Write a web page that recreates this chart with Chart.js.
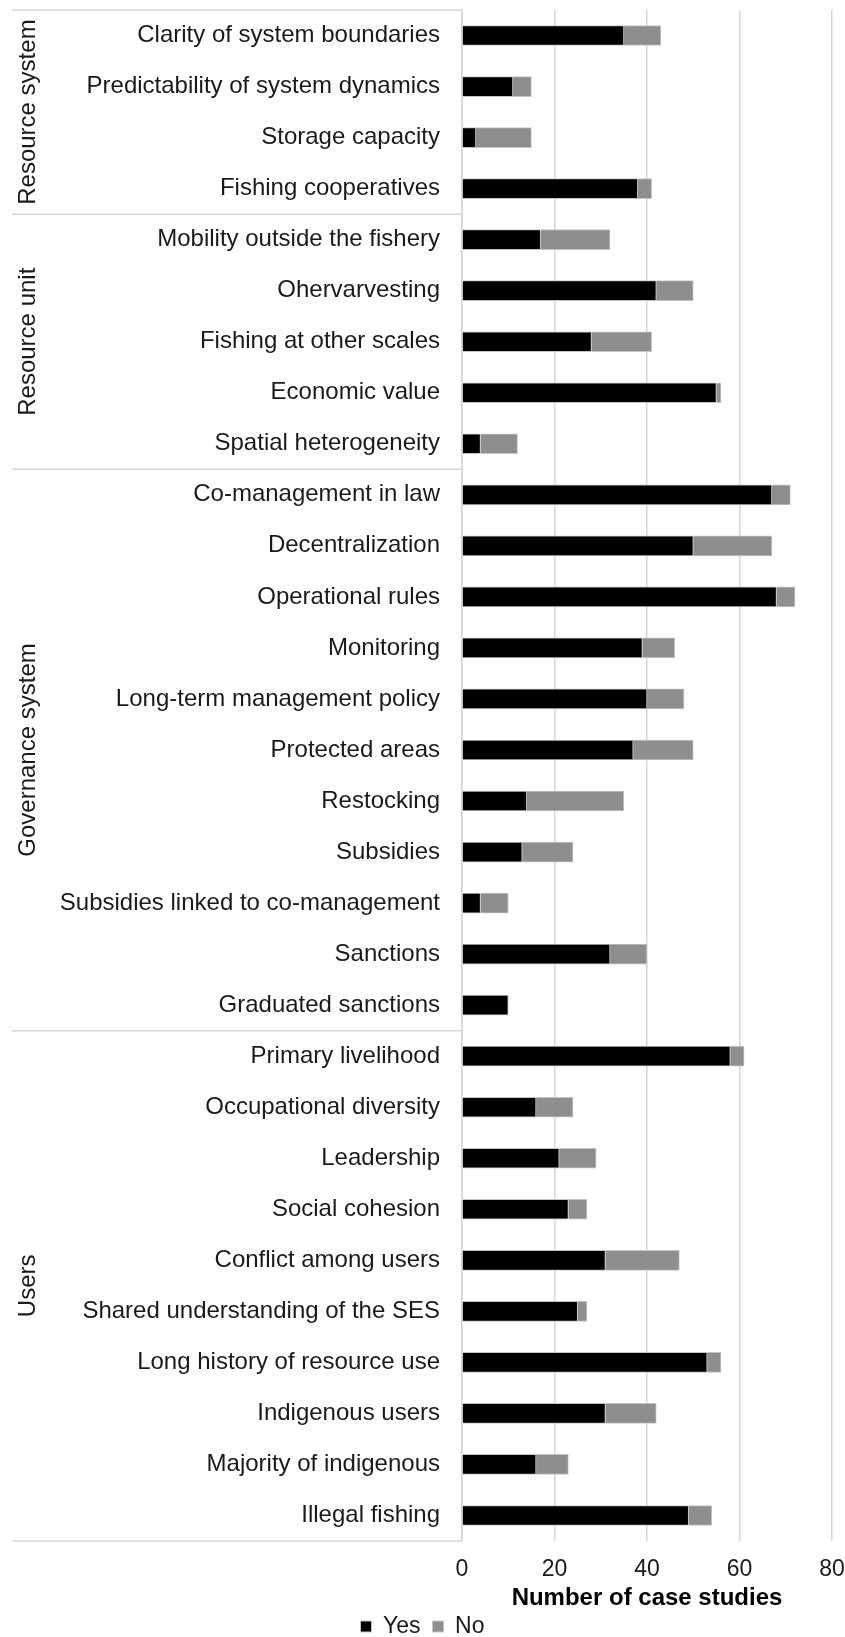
<!DOCTYPE html>
<html>
<head>
<meta charset="utf-8">
<script src="https://cdn.jsdelivr.net/npm/chart.js@4.4.1/dist/chart.umd.min.js"></script>
<style>
  html, body { margin: 0; padding: 0; background: #fff; overflow: hidden; }
  #wrap { width: 845px; height: 1637px; position: relative; }
</style>
</head>
<body>
<div id="wrap"><canvas id="chart"></canvas></div>
<script>
const categories = [
  "Clarity of system boundaries",
  "Predictability of system dynamics",
  "Storage capacity",
  "Fishing cooperatives",
  "Mobility outside the fishery",
  "Ohervarvesting",
  "Fishing at other scales",
  "Economic value",
  "Spatial heterogeneity",
  "Co-management in law",
  "Decentralization",
  "Operational rules",
  "Monitoring",
  "Long-term management policy",
  "Protected areas",
  "Restocking",
  "Subsidies",
  "Subsidies linked to co-management",
  "Sanctions",
  "Graduated sanctions",
  "Primary livelihood",
  "Occupational diversity",
  "Leadership",
  "Social cohesion",
  "Conflict among users",
  "Shared understanding of the SES",
  "Long history of resource use",
  "Indigenous users",
  "Majority of indigenous",
  "Illegal fishing",
];

const yesValues = [35, 11, 3, 38, 17, 42, 28, 55, 4, 67, 50, 68, 39, 40, 37, 14, 13, 4, 32, 10, 58, 16, 21, 23, 31, 25, 53, 31, 16, 49];
const noValues = [8, 4, 12, 3, 15, 8, 13, 1, 8, 4, 17, 4, 7, 8, 13, 21, 11, 6, 8, 0, 3, 8, 8, 4, 16, 2, 3, 11, 7, 5];

const groupNames = ["Resource system", "Resource unit", "Governance system", "Users"];
const groupSizes = [4, 5, 11, 10];

const xTicks = [0, 20, 40, 60, 80];

const FONT = "'Liberation Sans', Arial, Helvetica, sans-serif";
const LINE = "#d6d6d6";

// rotated group labels + the light frame on the left
const groupLabels = {
  id: "groupLabels",
  afterDraw(chart) {
    const { ctx, chartArea, scales } = chart;
    const y = scales.y;
    const half = (y.getPixelForValue(1) - y.getPixelForValue(0)) / 2;
    ctx.save();
    ctx.strokeStyle = LINE;
    ctx.lineWidth = 1.5;
    ctx.fillStyle = "#1a1a1a";
    ctx.font = "24px " + FONT;
    ctx.textAlign = "center";
    ctx.textBaseline = "alphabetic";

    let start = 0;
    const edge = (i) => y.getPixelForValue(i) - half;
    ctx.beginPath();
    ctx.moveTo(12, edge(0));
    ctx.lineTo(chartArea.left, edge(0));
    ctx.stroke();
    groupSizes.forEach((n, g) => {
      const top = edge(start);
      const bottom = edge(start + n);
      ctx.beginPath();
      ctx.moveTo(12, bottom);
      ctx.lineTo(chartArea.left, bottom);
      ctx.stroke();

      ctx.save();
      ctx.translate(35, (top + bottom) / 2);
      ctx.rotate(-Math.PI / 2);
      ctx.fillText(groupNames[g], 0, 0);
      ctx.restore();
      start += n;
    });
    ctx.restore();
  },
};

new Chart(document.getElementById("chart"), {
  type: "bar",
  data: {
    labels: categories,
    datasets: [
      {
        label: "Yes",
        data: yesValues,
        backgroundColor: "#000000",
        borderColor: "#c4c4c4",
        borderWidth: 1,
        barThickness: 20,
      },
      {
        label: "No",
        data: noValues,
        backgroundColor: "#8e8e8e",
        borderColor: "#c4c4c4",
        borderWidth: 1,
        barThickness: 20,
      },
    ],
  },
  options: {
    indexAxis: "y",
    responsive: true,
    maintainAspectRatio: false,
    animation: false,
    devicePixelRatio: 1,
    layout: { padding: { top: 10, right: 0, left: 0, bottom: 0 } },
    scales: {
      x: {
        stacked: true,
        min: 0,
        max: 80,
        afterBuildTicks: (scale) => {
          scale.ticks = xTicks.map((v) => ({ value: v }));
        },
        afterFit: (scale) => {
          scale.height = 62;
          scale.paddingLeft = 0;
          scale.paddingRight = 13;
        },
        grid: { color: LINE, lineWidth: 1.5, drawTicks: false },
        border: { display: false },
        ticks: {
          color: "#1a1a1a",
          padding: 15,
          font: { family: FONT, size: 23 },
        },
        title: {
          display: true,
          text: "Number of case studies",
          color: "#000",
          padding: { top: 0, bottom: -10 },
          font: { family: FONT, size: 24, weight: "bold" },
        },
      },
      y: {
        stacked: true,
        afterFit: (scale) => {
          scale.width = 462;
          scale.paddingTop = 0;
          scale.paddingBottom = 0;
        },
        grid: { display: false, drawTicks: false },
        border: { display: true, color: LINE, width: 1.5 },
        ticks: {
          autoSkip: false,
          color: "#1a1a1a",
          padding: 22,
          font: { family: FONT, size: 24 },
        },
      },
    },
    plugins: {
      legend: {
        position: "bottom",
        maxHeight: 34,
        labels: {
          boxWidth: 11,
          boxHeight: 11,
          padding: 12,
          color: "#1a1a1a",
          font: { family: FONT, size: 23 },
        },
      },
      tooltip: { enabled: false },
    },
  },
  plugins: [groupLabels],
});
</script>
</body>
</html>
